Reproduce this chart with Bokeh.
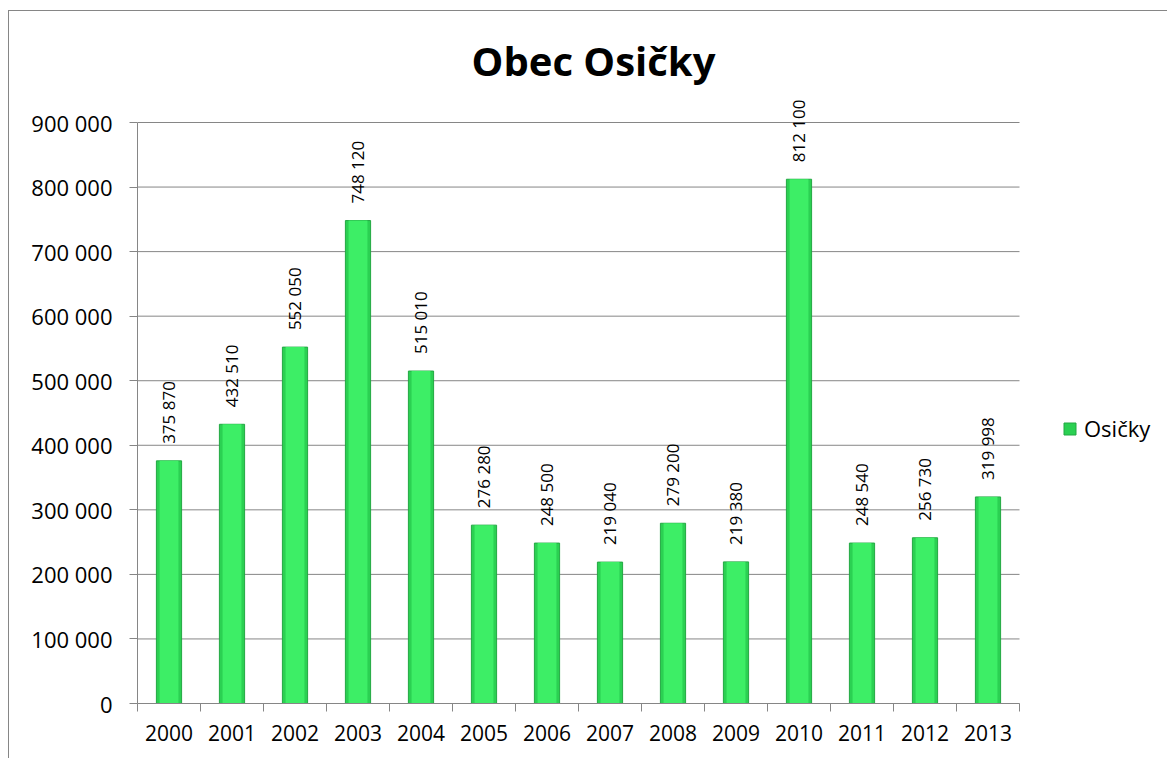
from math import pi
from bokeh.plotting import figure
from bokeh.models import (ColumnDataSource, Range1d, FixedTicker, LabelSet, Label,
                          Legend, LegendItem, CustomJSTickFormatter)
from bokeh.core.properties import value
from bokeh.embed import file_html
from bokeh.resources import INLINE

# ---- data ----
years = ["2000", "2001", "2002", "2003", "2004", "2005", "2006",
         "2007", "2008", "2009", "2010", "2011", "2012", "2013"]
values = [375870, 432510, 552050, 748120, 515010, 276280, 248500,
          219040, 279200, 219380, 812100, 248540, 256730, 319998]
series_name = "Osičky"
title_text = "Obec Osičky"
y_ticks = [0, 100000, 200000, 300000, 400000, 500000, 600000, 700000, 800000, 900000]


def fmt(v):
    return f"{v:,}".replace(",", " ")


idx = list(range(len(years)))
src = ColumnDataSource(dict(x=idx, top=values, label=[fmt(v) for v in values]))

FONT = "Open Sans"
GRAY = "#868686"

# layout (pixels)
SLOT_PX = 63            # width of one category slot
AXIS_PX = 581           # height of the 0..900 000 span
FRAME_W = 1030
FRAME_H = 692

x_lo, x_hi = -0.5, len(years) - 0.5
y_top = y_ticks[-1]

p = figure(frame_width=FRAME_W, frame_height=FRAME_H, output_backend="svg",
           toolbar_location=None,
           x_range=Range1d(x_lo, x_lo + FRAME_W / SLOT_PX),
           y_range=Range1d(0, y_top * FRAME_H / AXIS_PX),
           min_border_left=128, min_border_right=0, min_border_top=0,
           min_border_bottom=55, background_fill_color="white",
           border_fill_color="white")
p.styles = {"margin-left": "8px", "margin-top": "10px",
            "border-left": "1px solid #868686", "border-top": "1px solid #868686"}
p.outline_line_color = None

# horizontal gridlines at the y ticks, limited to the category span
p.segment(x0=x_lo, x1=x_hi, y0=y_ticks, y1=y_ticks, line_color=GRAY, line_width=1,
          level="underlay")

# bars (outer darker edge + lighter inner core for a bevel look)
r_outer = p.vbar(x="x", top="top", width=0.4, source=src,
                 fill_color="#2BD052", line_color="#23A843", line_width=1)
p.vbar(x="x", top="top", width=0.3, source=src,
       fill_color="#3DEE66", line_color=None)

# data labels
labels = LabelSet(x="x", y="top", text="label", source=src, angle=pi / 2,
                  text_align="left", text_baseline="middle", y_offset=17,
                  text_font=value(FONT), text_font_size=value("17px"),
                  text_color="black")
p.add_layout(labels)

# axes
p.xaxis.bounds = (x_lo, x_hi)
p.xaxis.ticker = FixedTicker(ticks=idx, minor_ticks=[i - 0.5 for i in range(len(years) + 1)])
p.xaxis.formatter = CustomJSTickFormatter(args=dict(years=years),
                                          code="return years[Math.round(tick)] || '';")
p.xaxis.major_tick_line_color = None
p.xaxis.minor_tick_line_color = GRAY
p.xaxis.minor_tick_in = 0
p.xaxis.minor_tick_out = 8
p.xaxis.axis_line_color = GRAY
p.xaxis.major_label_text_font = FONT
p.xaxis.major_label_text_font_size = "21px"
p.xaxis.major_label_text_color = "black"
p.xaxis.major_label_standoff = 13

p.yaxis.bounds = (0, y_top)
p.yaxis.ticker = FixedTicker(ticks=y_ticks, minor_ticks=[])
p.yaxis.formatter = CustomJSTickFormatter(
    code="return Math.round(tick).toString().replace(/\\B(?=(\\d{3})+(?!\\d))/g, ' ');")
p.yaxis.major_tick_line_color = GRAY
p.yaxis.major_tick_in = 0
p.yaxis.major_tick_out = 8
p.yaxis.minor_tick_line_color = None
p.yaxis.axis_line_color = GRAY
p.yaxis.major_label_text_font = FONT
p.yaxis.major_label_text_font_size = "22px"
p.yaxis.major_label_text_color = "black"
p.yaxis.major_label_standoff = 17

p.xgrid.visible = False
p.ygrid.visible = False

# title
p.add_layout(Label(x=456, y=643, x_units="screen", y_units="screen", text=title_text,
                   text_align="center", text_baseline="middle", text_font=FONT,
                   text_font_style="bold", text_font_size="40px", text_color="black"))

# legend
legend = Legend(items=[LegendItem(label=series_name, renderers=[r_outer])],
                location=(925, 260), glyph_width=15, glyph_height=15,
                label_standoff=7, padding=0, margin=0, spacing=0,
                border_line_color=None, background_fill_alpha=0,
                label_text_font=FONT, label_text_font_size="22px",
                label_text_color="black", label_height=15)
p.add_layout(legend)

open("out.html", "w").write(file_html(p, INLINE))
